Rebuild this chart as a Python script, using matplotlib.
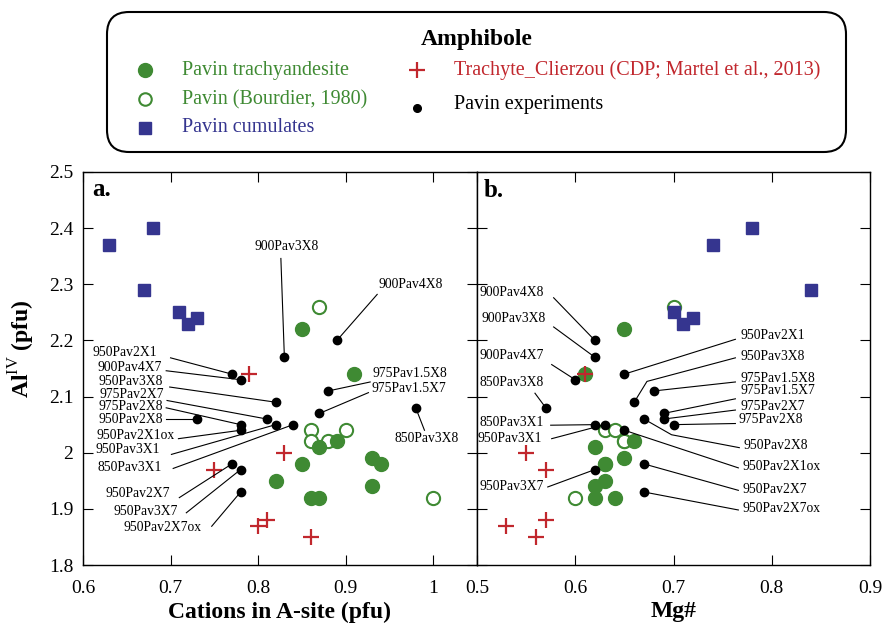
import matplotlib
matplotlib.use('Agg')
import matplotlib.pyplot as plt
from matplotlib.patches import FancyBboxPatch
from matplotlib.lines import Line2D

plt.rcParams['font.family'] = ['Liberation Serif', 'DejaVu Serif']
plt.rcParams['mathtext.fontset'] = 'custom'
plt.rcParams['mathtext.rm'] = 'Liberation Serif'
plt.rcParams['mathtext.bf'] = 'Liberation Serif:bold'

GREEN = '#3f8a33'
BLUE = '#35358f'
RED = '#c1272d'

# Pavin trachyandesite (filled green)
trach_al = [2.22, 2.14, 2.01, 2.02, 1.99, 1.98, 1.98, 1.95, 1.94, 1.92, 1.92]
trach_cat = [0.85, 0.91, 0.87, 0.89, 0.93, 0.85, 0.94, 0.82, 0.93, 0.86, 0.87]
trach_mg = [0.65, 0.61, 0.62, 0.66, 0.65, 0.63, 0.63, 0.63, 0.62, 0.62, 0.64]

# Pavin (Bourdier, 1980) (open green)
bourd_al = [2.26, 2.04, 2.02, 2.02, 2.04, 1.92]
bourd_cat = [0.87, 0.86, 0.86, 0.88, 0.90, 1.00]
bourd_mg = [0.70, 0.63, 0.65, 0.65, 0.64, 0.60]

# Pavin cumulates (blue squares)
cumul_al = [2.37, 2.40, 2.29, 2.25, 2.23, 2.24]
cumul_cat = [0.63, 0.68, 0.67, 0.71, 0.72, 0.73]
cumul_mg = [0.74, 0.78, 0.84, 0.70, 0.71, 0.72]

# Trachyte_Clierzou (red crosses)
clier_al = [2.14, 2.00, 1.97, 1.87, 1.88, 1.85]
clier_cat = [0.79, 0.83, 0.75, 0.80, 0.81, 0.86]
clier_mg = [0.61, 0.55, 0.57, 0.53, 0.57, 0.56]

# Pavin experiments (black dots)
exp_names = ['900Pav4X8', '900Pav3X8', '950Pav2X1', '900Pav4X7', '950Pav3X8',
             '975Pav2X7', '975Pav2X8', '950Pav2X8', '950Pav2X1ox', '950Pav3X1',
             '850Pav3X1', '950Pav2X7', '950Pav3X7', '950Pav2X7ox',
             '975Pav1.5X8', '975Pav1.5X7', '850Pav3X8']
exp_al = [2.20, 2.17, 2.14, 2.13, 2.09, 2.06, 2.05, 2.06, 2.04, 2.05,
          2.05, 1.98, 1.97, 1.93, 2.11, 2.07, 2.08]
exp_cat = [0.89, 0.83, 0.77, 0.78, 0.82, 0.81, 0.78, 0.73, 0.78, 0.82,
           0.84, 0.77, 0.78, 0.78, 0.88, 0.87, 0.98]
exp_mg = [0.62, 0.62, 0.65, 0.60, 0.66, 0.69, 0.70, 0.67, 0.65, 0.63,
          0.62, 0.67, 0.62, 0.67, 0.68, 0.69, 0.57]

xticks_a = [0.6, 0.7, 0.8, 0.9, 1.0]
xticks_b = [0.5, 0.6, 0.7, 0.8, 0.9]
yticks = [1.8, 1.9, 2.0, 2.1, 2.2, 2.3, 2.4, 2.5]

# label layout: text x, text y, ha, leader start x, leader start y, optional bend
labels_a = {
    '900Pav3X8': (0.832, 2.367, 'center', 0.826, 2.346, None),
    '900Pav4X8': (0.974, 2.300, 'center', 0.936, 2.282, None),
    '975Pav1.5X8': (0.931, 2.141, 'left', 0.928, 2.126, None),
    '975Pav1.5X7': (0.930, 2.114, 'left', 0.926, 2.107, None),
    '850Pav3X8': (0.992, 2.025, 'center', 0.990, 2.040, None),
    '950Pav2X1': (0.685, 2.178, 'right', 0.700, 2.169, None),
    '900Pav4X7': (0.690, 2.151, 'right', 0.695, 2.146, None),
    '950Pav3X8': (0.691, 2.127, 'right', 0.699, 2.117, None),
    '975Pav2X7': (0.692, 2.104, 'right', 0.696, 2.093, None),
    '975Pav2X8': (0.691, 2.083, 'right', 0.695, 2.080, None),
    '950Pav2X8': (0.691, 2.059, 'right', 0.695, 2.060, None),
    '950Pav2X1ox': (0.705, 2.031, 'right', 0.709, 2.025, None),
    '950Pav3X1': (0.688, 2.006, 'right', 0.701, 1.997, None),
    '850Pav3X1': (0.690, 1.974, 'right', 0.703, 1.972, None),
    '950Pav2X7': (0.699, 1.927, 'right', 0.710, 1.920, None),
    '950Pav3X7': (0.708, 1.896, 'right', 0.718, 1.893, None),
    '950Pav2X7ox': (0.735, 1.866, 'right', 0.747, 1.869, None),
}
labels_b = {
    '900Pav4X8': (0.503, 2.286, 'left', 0.578, 2.276, None),
    '900Pav3X8': (0.505, 2.239, 'left', 0.578, 2.224, None),
    '900Pav4X7': (0.503, 2.173, 'left', 0.576, 2.157, None),
    '850Pav3X8': (0.503, 2.125, 'left', 0.559, 2.106, None),
    '850Pav3X1': (0.503, 2.053, 'left', 0.575, 2.049, None),
    '950Pav3X1': (0.501, 2.026, 'left', 0.576, 2.025, None),
    '950Pav3X7': (0.503, 1.940, 'left', 0.572, 1.939, None),
    '950Pav2X1': (0.768, 2.209, 'left', 0.763, 2.202, None),
    '950Pav3X8': (0.768, 2.171, 'left', 0.763, 2.169, (0.673, 2.127)),
    '975Pav1.5X8': (0.768, 2.133, 'left', 0.763, 2.126, None),
    '975Pav1.5X7': (0.768, 2.110, 'left', 0.763, 2.096, None),
    '975Pav2X7': (0.768, 2.083, 'left', 0.763, 2.076, None),
    '975Pav2X8': (0.766, 2.060, 'left', 0.763, 2.052, None),
    '950Pav2X8': (0.771, 2.012, 'left', 0.767, 2.009, (0.698, 2.032)),
    '950Pav2X1ox': (0.770, 1.976, 'left', 0.766, 1.973, None),
    '950Pav2X7': (0.770, 1.934, 'left', 0.766, 1.933, None),
    '950Pav2X7ox': (0.770, 1.900, 'left', 0.766, 1.898, None),
}

W, H = 883, 628
fig = plt.figure(figsize=(W / 100, H / 100), dpi=100)
ax_a = fig.add_axes([83 / W, 1 - 565 / H, 394 / W, 393 / H])
ax_b = fig.add_axes([477 / W, 1 - 565 / H, 393 / W, 393 / H])


def draw_panel(ax, trach_x, bourd_x, cumul_x, clier_x, exp_x, layout):
    ax.plot(bourd_x, bourd_al, 'o', ms=9.5, mfc='white', mec=GREEN, mew=1.5, zorder=2)
    ax.plot(trach_x, trach_al, 'o', ms=10, color=GREEN, zorder=3)
    ax.plot(cumul_x, cumul_al, 's', ms=8.5, color=BLUE, zorder=3)
    ax.plot(clier_x, clier_al, '+', ms=12, mew=1.6, color=RED, zorder=4)
    for name, x, y in zip(exp_names, exp_x, exp_al):
        tx, ty, ha, sx, sy, bend = layout[name]
        xs, ys = [sx], [sy]
        if bend is not None:
            xs.append(bend[0])
            ys.append(bend[1])
        xs.append(x)
        ys.append(y)
        ax.plot(xs, ys, color='black', lw=0.8, zorder=4)
        ax.text(tx, ty, name, ha=ha, va='center', fontsize=9.8, zorder=5)
    ax.plot(exp_x, exp_al, 'o', ms=6, color='black', zorder=5)
    ax.set_ylim(1.8, 2.5)
    ax.set_yticks(yticks)
    ax.tick_params(direction='in', length=7, top=True, right=True, labelsize=14)
    ax.tick_params(axis='x', pad=11)
    ax.tick_params(axis='y', pad=7)
    for s in ax.spines.values():
        s.set_linewidth(1.0)


draw_panel(ax_a, trach_cat, bourd_cat, cumul_cat, clier_cat, exp_cat, labels_a)
draw_panel(ax_b, trach_mg, bourd_mg, cumul_mg, clier_mg, exp_mg, labels_b)

ax_a.set_xlim(0.6, 1.05)
ax_a.set_xticks(xticks_a)
ax_a.set_xticklabels(['%g' % t for t in xticks_a])
ax_a.set_yticklabels(['%g' % t for t in yticks])
ax_b.set_xlim(0.5, 0.9)
ax_b.set_xticks(xticks_b)
ax_b.set_xticklabels(['%g' % t for t in xticks_b])
ax_b.set_yticklabels([])

ax_a.set_xlabel('Cations in A-site (pfu)', fontsize=17, fontweight='bold', labelpad=3)
ax_b.set_xlabel('Mg#', fontsize=17, fontweight='bold', labelpad=3)
ax_a.set_ylabel(r'Al$^{\mathrm{IV}}$ (pfu)', fontsize=17, fontweight='bold')
ax_a.yaxis.set_label_coords(-0.117, 0.55)

ax_a.text(0.023, 0.939, 'a.', transform=ax_a.transAxes, fontsize=18,
          fontweight='bold', va='baseline')
ax_b.text(0.016, 0.937, 'b.', transform=ax_b.transAxes, fontsize=18,
          fontweight='bold', va='baseline')

# legend box
box = FancyBboxPatch((107 / W, 1 - 152 / H), 739 / W, 140 / H,
                     boxstyle='round,pad=0,rounding_size=0.025',
                     mutation_aspect=W / H,
                     transform=fig.transFigure, fc='white', ec='black', lw=1.5)
fig.add_artist(box)
fig.text(477 / W, 1 - 40 / H, 'Amphibole', ha='center', va='center',
         fontsize=17, fontweight='bold')

entries = [
    (145, 70, 182, 70, 'Pavin trachyandesite', GREEN,
     dict(marker='o', ms=10, color=GREEN)),
    (145, 99, 182, 100, 'Pavin (Bourdier, 1980)', GREEN,
     dict(marker='o', ms=9, mfc='white', mec=GREEN, mew=1.5)),
    (145, 128, 182, 128, 'Pavin cumulates', BLUE,
     dict(marker='s', ms=8, color=BLUE)),
    (417, 70, 454, 70, 'Trachyte_Clierzou (CDP; Martel et al., 2013)', RED,
     dict(marker='+', ms=12, mew=1.6, color=RED)),
    (417, 108, 454, 104, 'Pavin experiments', 'black',
     dict(marker='o', ms=5.5, color='black')),
]
for mx, my, tx, ty, label, col, mstyle in entries:
    fig.add_artist(Line2D([mx / W], [1 - my / H], linestyle='none',
                          transform=fig.transFigure, **mstyle))
    fig.text(tx / W, 1 - ty / H, label, ha='left', va='center', fontsize=14.5,
             color=col)

fig.savefig('out.png', dpi=100)
